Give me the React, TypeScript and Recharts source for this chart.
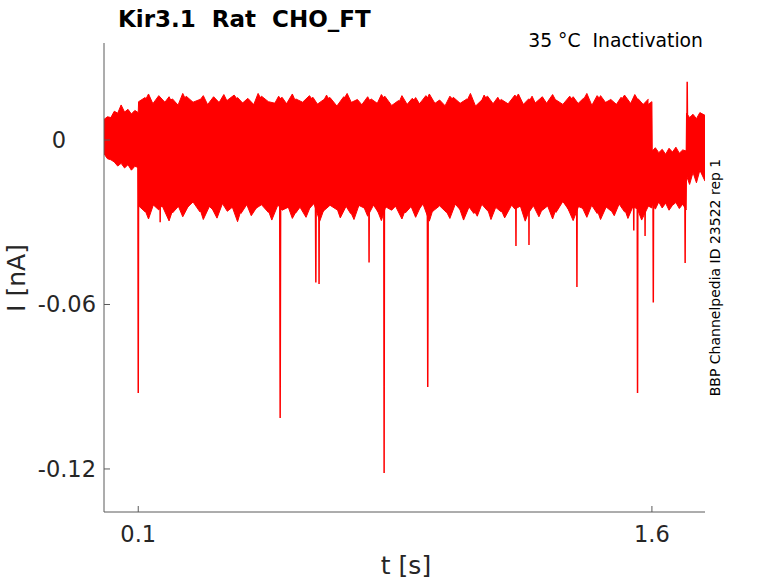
import { ComposedChart, Area, Line, XAxis, YAxis } from 'recharts';

// envelope of the overlaid sweeps (I in nA, t in s)
const bandTime = [
  0, 0.01, 0.02, 0.03, 0.04, 0.05, 0.06, 0.07, 0.08, 0.09, 0.1,
  0.101,
  0.12, 0.14, 0.16, 0.18, 0.2, 0.22, 0.24, 0.26, 0.28, 0.3,
  0.32, 0.34, 0.36, 0.38, 0.4, 0.42, 0.44, 0.46, 0.48, 0.5,
  0.52, 0.54, 0.56, 0.58, 0.6, 0.62, 0.64, 0.66, 0.68, 0.7,
  0.72, 0.74, 0.76, 0.78, 0.8, 0.82, 0.84, 0.86, 0.88, 0.9,
  0.92, 0.94, 0.96, 0.98, 1.0, 1.02, 1.04, 1.06, 1.08, 1.1,
  1.12, 1.14, 1.16, 1.18, 1.2, 1.22, 1.24, 1.26, 1.28, 1.3,
  1.32, 1.34, 1.36, 1.38, 1.4, 1.42, 1.44, 1.46, 1.48, 1.5,
  1.52, 1.54, 1.56, 1.58, 1.6,
  1.601, 1.61, 1.62, 1.63, 1.64, 1.65, 1.66, 1.67, 1.68, 1.69, 1.7,
  1.701, 1.71, 1.72, 1.73, 1.74, 1.755,
];

const bandUpper = [
  0.0075, 0.0085, 0.0082, 0.0105, 0.0098, 0.0128, 0.0102, 0.0112, 0.0095, 0.0108, 0.01,
  0.014,
  0.0155, 0.0128, 0.0162, 0.0135, 0.015, 0.0122, 0.016, 0.0138, 0.0148, 0.0125,
  0.0158, 0.0132, 0.0145, 0.0164, 0.013, 0.0152, 0.0126, 0.016, 0.014, 0.0134,
  0.0156, 0.012, 0.015, 0.0138, 0.0162, 0.0128, 0.0146, 0.0155, 0.0124, 0.0158,
  0.0136, 0.0148, 0.0118, 0.015, 0.0132, 0.016, 0.0126, 0.0144, 0.0122, 0.0152,
  0.013, 0.0162, 0.0128, 0.0146, 0.012, 0.0156, 0.0134, 0.015, 0.0118, 0.0142,
  0.016, 0.0126, 0.0148, 0.0132, 0.0164, 0.0124, 0.015, 0.0136, 0.0158, 0.012,
  0.0146, 0.013, 0.016, 0.0128, 0.0152, 0.0116, 0.0162, 0.0134, 0.0148, 0.0126,
  0.0164, 0.013, 0.015, 0.0122, 0.014,
  -0.004, -0.0028, -0.0046, -0.0034, -0.0052, -0.003, -0.0044, -0.0026, -0.0048, -0.0036, -0.004,
  0.0098, 0.0082, 0.0094, 0.0078, 0.01, 0.009,
];

const bandLower = [
  -0.005, -0.0068, -0.0072, -0.008, -0.0095, -0.0085, -0.0102, -0.009, -0.011, -0.0096, -0.01,
  -0.024,
  -0.0262, -0.0232, -0.0255, -0.0222, -0.0266, -0.0238, -0.025, -0.0226, -0.0262, -0.0234,
  -0.0256, -0.022, -0.026, -0.024, -0.0268, -0.023, -0.0252, -0.0236, -0.0264, -0.0224,
  -0.0256, -0.0244, -0.0266, -0.0232, -0.025, -0.0222, -0.026, -0.0238, -0.0254, -0.0228,
  -0.0268, -0.0236, -0.0248, -0.0224, -0.0262, -0.0242, -0.0256, -0.023, -0.0266, -0.0238,
  -0.0252, -0.022, -0.026, -0.024, -0.0264, -0.0226, -0.0254, -0.0234, -0.0268, -0.023,
  -0.0258, -0.0242, -0.0262, -0.0222, -0.0252, -0.0238, -0.0266, -0.0228, -0.0256, -0.0236,
  -0.0264, -0.0224, -0.026, -0.024, -0.025, -0.023, -0.0268, -0.0238, -0.0258, -0.0226,
  -0.0262, -0.0242, -0.0252, -0.0234, -0.0248,
  -0.0235, -0.0252, -0.0226, -0.0248, -0.023, -0.0256, -0.0238, -0.0228, -0.025, -0.0234, -0.0255,
  -0.013, -0.0162, -0.0118, -0.0156, -0.011, -0.015,
];

// second group of sweeps, sampled between the first, gives the ragged edge
const band2Time = [
  0.11, 0.13, 0.15, 0.17, 0.19, 0.21, 0.23, 0.25, 0.27, 0.29,
  0.31, 0.33, 0.35, 0.37, 0.39, 0.41, 0.43, 0.45, 0.47, 0.49,
  0.51, 0.53, 0.55, 0.57, 0.59, 0.61, 0.63, 0.65, 0.67, 0.69,
  0.71, 0.73, 0.75, 0.77, 0.79, 0.81, 0.83, 0.85, 0.87, 0.89,
  0.91, 0.93, 0.95, 0.97, 0.99, 1.01, 1.03, 1.05, 1.07, 1.09,
  1.11, 1.13, 1.15, 1.17, 1.19, 1.21, 1.23, 1.25, 1.27, 1.29,
  1.31, 1.33, 1.35, 1.37, 1.39, 1.41, 1.43, 1.45, 1.47, 1.49,
  1.51, 1.53, 1.55, 1.57, 1.59,
];

const band2Upper = [
  0.012, 0.0168, 0.0112, 0.0125, 0.0158, 0.0108, 0.017, 0.0118, 0.013, 0.0162,
  0.011, 0.0124, 0.0166, 0.0115, 0.0155, 0.0128, 0.0106, 0.017, 0.0122, 0.0114,
  0.016, 0.0126, 0.0168, 0.011, 0.0132, 0.0156, 0.0118, 0.0164, 0.0108, 0.0128,
  0.017, 0.0116, 0.0124, 0.0158, 0.0112, 0.0166, 0.013, 0.0106, 0.0162, 0.012,
  0.0155, 0.0114, 0.0168, 0.0126, 0.011, 0.016, 0.0132, 0.0118, 0.017, 0.0108,
  0.0164, 0.0122, 0.0156, 0.0112, 0.0128, 0.0168, 0.0116, 0.016, 0.0106, 0.013,
  0.0166, 0.012, 0.0114, 0.0158, 0.0124, 0.017, 0.011, 0.0162, 0.0128, 0.0118,
  0.0156, 0.0112, 0.0166, 0.0124, 0.015,
];

const band2Lower = [
  -0.0225, -0.0288, -0.0215, -0.024, -0.0295, -0.022, -0.028, -0.0232, -0.0212, -0.029,
  -0.0236, -0.0285, -0.0218, -0.0228, -0.0298, -0.0214, -0.0276, -0.0238, -0.0222, -0.0292,
  -0.023, -0.0216, -0.0286, -0.024, -0.0282, -0.022, -0.0296, -0.0226, -0.0212, -0.0284,
  -0.0234, -0.029, -0.0218, -0.0278, -0.023, -0.0294, -0.0214, -0.0238, -0.0288, -0.0222,
  -0.0282, -0.0228, -0.0296, -0.0216, -0.0236, -0.0286, -0.022, -0.0292, -0.0232, -0.0278,
  -0.0212, -0.029, -0.0226, -0.0284, -0.0238, -0.0218, -0.0296, -0.023, -0.028, -0.0222,
  -0.0288, -0.0214, -0.0236, -0.0294, -0.0228, -0.0282, -0.022, -0.029, -0.0234, -0.0276,
  -0.0216, -0.0286, -0.0226, -0.0292, -0.024,
];

// single sweeps with large transients
const spikeTime = [
  0, 0.099, 0.1, 0.101,
  0.163, 0.164, 0.165,
  0.513, 0.5144, 0.516,
  0.617, 0.6186, 0.62,
  0.627, 0.628, 0.629,
  0.773, 0.774, 0.775,
  0.817, 0.818, 0.819,
  0.944, 0.9454, 0.947,
  1.202, 1.203, 1.204,
  1.24, 1.241, 1.242,
  1.38, 1.381, 1.382,
  1.546, 1.547, 1.548,
  1.557, 1.558, 1.559,
  1.579, 1.58, 1.581,
  1.603, 1.604, 1.605,
  1.696, 1.697, 1.698,
  1.702, 1.703, 1.704,
  1.755,
];

const spikeCurrent = [
  -0.002, -0.004, -0.0923, -0.01,
  -0.01, -0.03, -0.01,
  -0.01, -0.1014, -0.01,
  -0.01, -0.052, -0.01,
  -0.01, -0.0525, -0.01,
  -0.01, -0.0447, -0.01,
  -0.01, -0.1215, -0.01,
  -0.01, -0.0901, -0.01,
  -0.01, -0.0387, -0.01,
  -0.01, -0.0383, -0.01,
  -0.01, -0.0536, -0.01,
  -0.01, -0.033, -0.01,
  -0.01, -0.0923, -0.01,
  -0.01, -0.035, -0.01,
  -0.01, -0.0593, -0.01,
  -0.01, -0.0449, -0.01,
  -0.005, 0.0213, 0.004,
  0.0,
];

const xTicks = [0.1, 1.6];
const xTickLabels = ['0.1', '1.6'];
const yTicks = [-0.12, -0.06, 0];
const yTickLabels = ['-0.12', '-0.06', '0'];

const FONT = '"DejaVu Sans", sans-serif';
const AXIS = '#5a5a5a';
const TEXT = '#262626';
const RED = '#ff0000';

const bandData = bandTime.map((t, i) => ({ t, range: [bandLower[i], bandUpper[i]] }));
const band2Data = band2Time.map((t, i) => ({ t, range: [band2Lower[i], band2Upper[i]] }));
const spikeData = spikeTime.map((t, i) => ({ t, I: spikeCurrent[i] }));

function XTick(props: any) {
  const { x, y, payload } = props;
  const label = xTickLabels[xTicks.indexOf(payload.value)];
  return (
    <g>
      <line x1={x} x2={x} y1={y} y2={y - 6} stroke={AXIS} />
      <text x={x} y={y + 30} textAnchor="middle" fontSize={22.5} fill={TEXT} fontFamily={FONT}>
        {label}
      </text>
    </g>
  );
}

function YTick(props: any) {
  const { x, y, payload } = props;
  const label = yTickLabels[yTicks.indexOf(payload.value)];
  // the zero label sits further left in the original figure
  const tx = payload.value === 0 ? x - 38 : x - 8;
  return (
    <g>
      <line x1={x} x2={x + 6} y1={y} y2={y} stroke={AXIS} />
      <text x={tx} y={y + 8} textAnchor="end" fontSize={22.5} fill={TEXT} fontFamily={FONT}>
        {label}
      </text>
    </g>
  );
}

export default function App() {
  return (
    <div style={{ position: 'absolute', left: 0, top: 0, width: 778, height: 583, background: '#fff', fontFamily: FONT }}>
      <ComposedChart width={778} height={583} margin={{ top: 43, right: 73, bottom: 0, left: 0 }}>
        <XAxis
          type="number"
          dataKey="t"
          domain={[0, 1.755]}
          allowDataOverflow
          ticks={xTicks}
          tick={<XTick />}
          tickLine={false}
          tickSize={0}
          tickMargin={0}
          height={71}
          axisLine={{ stroke: AXIS }}
        />
        <YAxis
          type="number"
          domain={[-0.1357, 0.0354]}
          allowDataOverflow
          ticks={yTicks}
          tick={<YTick />}
          tickLine={false}
          tickSize={0}
          tickMargin={0}
          width={104}
          axisLine={{ stroke: AXIS }}
        />
        <Area
          data={bandData}
          dataKey="range"
          type="linear"
          stroke={RED}
          strokeWidth={1}
          fill={RED}
          fillOpacity={1}
          isAnimationActive={false}
          dot={false}
          activeDot={false}
        />
        <Area
          data={band2Data}
          dataKey="range"
          type="linear"
          stroke={RED}
          strokeWidth={1}
          fill={RED}
          fillOpacity={1}
          isAnimationActive={false}
          dot={false}
          activeDot={false}
        />
        <Line
          data={spikeData}
          dataKey="I"
          type="linear"
          stroke={RED}
          strokeWidth={1.5}
          dot={false}
          activeDot={false}
          isAnimationActive={false}
        />
      </ComposedChart>
      <svg width={778} height={583} style={{ position: 'absolute', left: 0, top: 0, pointerEvents: 'none' }}>
        <text x={118} y={27} fontSize={23} fontWeight="bold" fill="#000" fontFamily={FONT} style={{ whiteSpace: 'pre' }}>
          {'Kir3.1  Rat  CHO_FT'}
        </text>
        <text x={703} y={47} fontSize={18.8} textAnchor="end" fill="#000" fontFamily={FONT} style={{ whiteSpace: 'pre' }}>
          {'35 °C  Inactivation'}
        </text>
        <text x={406} y={574} fontSize={25} textAnchor="middle" fill={TEXT} fontFamily={FONT}>
          t [s]
        </text>
        <text x={25} y={278} fontSize={25} textAnchor="middle" fill={TEXT} fontFamily={FONT} transform="rotate(-90 25 278)">
          I [nA]
        </text>
        <text x={720} y={277.5} fontSize={14} textAnchor="middle" fill="#000" fontFamily={FONT} transform="rotate(-90 720 277.5)">
          BBP Channelpedia ID 23522 rep 1
        </text>
      </svg>
    </div>
  );
}
